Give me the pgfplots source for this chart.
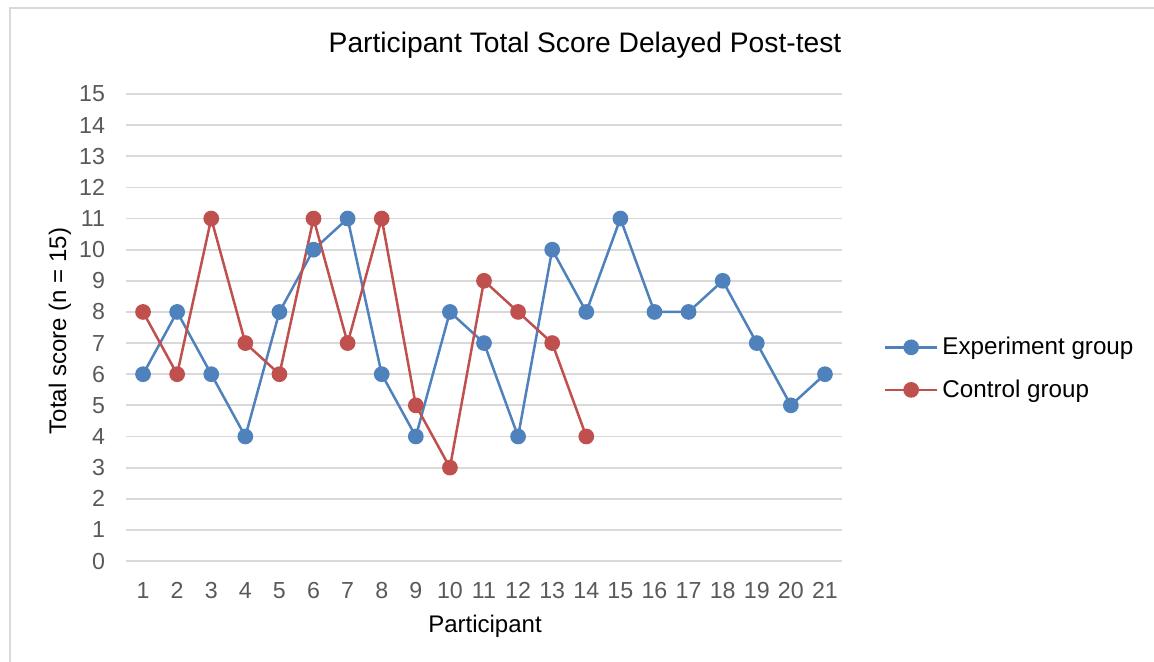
\documentclass[border=0pt]{standalone}
\usepackage{pgfplots}
\pgfplotsset{compat=1.18}
\usepackage{fontspec}
\setmainfont{Liberation Sans}
\definecolor{expblue}{HTML}{4F81BD}
\definecolor{ctlred}{HTML}{C0504D}
\definecolor{gridgray}{HTML}{D9D9D9}
\definecolor{ticktext}{HTML}{595959}
\definecolor{framegray}{HTML}{D9D9D9}
\begin{document}
\begin{tikzpicture}
\path[use as bounding box] (0,0) rectangle (577pt,330.5pt);
\draw[framegray, line width=1pt] (5pt,-5pt) -- (5pt,326.5pt) -- (590pt,326.5pt);
\begin{axis}[
  at={(63pt,50pt)}, anchor=south west, scale only axis,
  width=358pt, height=233.5pt,
  xmin=0.5, xmax=21.5, ymin=0, ymax=15,
  xtick={1,...,21}, ytick={0,...,15},
  ymajorgrids, major grid style={gridgray, line width=0.9pt},
  axis line style={draw=none},
  major tick length=0pt,
  tick label style={text=ticktext, font=\fontsize{11.6}{13}\selectfont},
  /pgf/number format/assume math mode=true,
  x tick label style={yshift=-7pt},
  y tick label style={xshift=-7pt},
  clip=false,
  legend style={at={(rel axis cs:1.058,0.412)}, anchor=west, draw=none, fill=none,
    font=\fontsize{12.1}{13.5}\selectfont, row sep=7pt, inner sep=0pt},
  legend cell align=left,
  legend image code/.code={\draw[mark repeat=2,mark phase=2,#1] plot coordinates {(0pt,0pt) (13pt,0pt) (26pt,0pt)};},
]
\addplot[expblue, line width=1.25pt, mark=*, mark size=3.3pt, mark options={fill=expblue, draw=expblue}] coordinates {
(1,6) (2,8) (3,6) (4,4) (5,8) (6,10) (7,11) (8,6) (9,4) (10,8) (11,7) (12,4) (13,10) (14,8) (15,11) (16,8) (17,8) (18,9) (19,7) (20,5) (21,6)};
\addlegendentry{Experiment group}
\addplot[ctlred, line width=1.25pt, mark=*, mark size=3.3pt, mark options={fill=ctlred, draw=ctlred}] coordinates {
(1,8) (2,6) (3,11) (4,7) (5,6) (6,11) (7,7) (8,11) (9,5) (10,3) (11,9) (12,8) (13,7) (14,4)};
\addlegendentry{Control group}
\end{axis}
\node at (292.5pt,308pt) {\fontsize{14.1}{16}\selectfont Participant Total Score Delayed Post-test};
\node[rotate=90] at (30pt,165pt) {\fontsize{12}{14}\selectfont Total score (n = 15)};
\node at (242.5pt,17.5pt) {\fontsize{12}{14}\selectfont Participant};
\end{tikzpicture}
\end{document}
